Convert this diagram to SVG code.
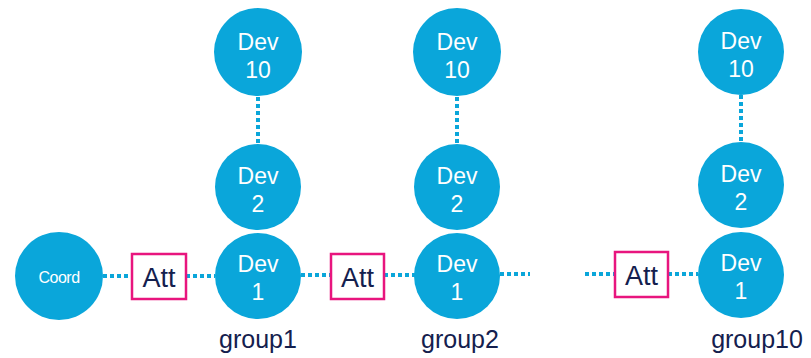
<svg xmlns="http://www.w3.org/2000/svg" width="811" height="358" viewBox="0 0 811 358">
<style>
.n{fill:#0AA6DA}
.t{font-family:"Liberation Sans",Arial,sans-serif;fill:#fff;font-size:23px;text-anchor:middle}
.c{stroke:#0AA6DA;stroke-width:4;stroke-dasharray:4 3;fill:none}
.a{fill:#fff;stroke:#E8157E;stroke-width:2.5}
.at{font-family:"Liberation Sans",Arial,sans-serif;fill:#14204E;font-size:27px;text-anchor:middle}
.g{font-family:"Liberation Sans",Arial,sans-serif;fill:#14204E;font-size:25px;text-anchor:middle}
</style>
<g id="connectors">
<line class="c" x1="103" y1="276" x2="132" y2="276"/>
<line class="c" x1="186" y1="276" x2="215" y2="276"/>
<line class="c" x1="301" y1="275" x2="331" y2="275"/>
<line class="c" x1="384" y1="275" x2="415" y2="275"/>
<line class="c" x1="500" y1="274" x2="530" y2="274"/>
<line class="c" x1="585" y1="274" x2="615" y2="274"/>
<line class="c" x1="668" y1="274" x2="698" y2="274"/>
<line class="c" x1="258" y1="97" x2="258" y2="145"/>
<line class="c" x1="457" y1="97" x2="457" y2="145"/>
<line class="c" x1="741" y1="95" x2="741" y2="142"/>
</g>
<g id="coord"><circle class="n" cx="59" cy="276" r="44"/><text class="t" x="59" y="283" style="font-size:16px;letter-spacing:-0.5px">Coord</text></g>
<g id="att1"><rect class="a" x="132" y="254" width="54" height="45"/><text class="at" x="159" y="287">Att</text></g>
<g id="g1dev1"><circle class="n" cx="258" cy="276" r="43"/><text class="t" x="258" y="272">Dev</text><text class="t" x="258" y="300">1</text></g>
<g id="g1dev2"><circle class="n" cx="258" cy="187" r="43"/><text class="t" x="258" y="184">Dev</text><text class="t" x="258" y="212">2</text></g>
<g id="g1dev10"><circle class="n" cx="258" cy="52" r="44"/><text class="t" x="258" y="50">Dev</text><text class="t" x="258" y="78">10</text></g>
<g id="group1"><text class="g" x="258" y="348">group1</text></g>
<g id="att2"><rect class="a" x="331" y="254" width="53" height="45"/><text class="at" x="357.5" y="287">Att</text></g>
<g id="g2dev1"><circle class="n" cx="457" cy="276" r="43"/><text class="t" x="457" y="272">Dev</text><text class="t" x="457" y="300">1</text></g>
<g id="g2dev2"><circle class="n" cx="457" cy="187" r="43"/><text class="t" x="457" y="184">Dev</text><text class="t" x="457" y="212">2</text></g>
<g id="g2dev10"><circle class="n" cx="457" cy="52" r="44"/><text class="t" x="457" y="50">Dev</text><text class="t" x="457" y="78">10</text></g>
<g id="group2"><text class="g" x="460" y="348">group2</text></g>
<g id="att10"><rect class="a" x="615" y="252" width="53" height="45"/><text class="at" x="641.5" y="285">Att</text></g>
<g id="g10dev1"><circle class="n" cx="741" cy="275" r="43"/><text class="t" x="741" y="271">Dev</text><text class="t" x="741" y="299">1</text></g>
<g id="g10dev2"><circle class="n" cx="741" cy="185" r="43"/><text class="t" x="741" y="182">Dev</text><text class="t" x="741" y="210">2</text></g>
<g id="g10dev10"><circle class="n" cx="741" cy="52" r="43"/><text class="t" x="741" y="49">Dev</text><text class="t" x="741" y="77">10</text></g>
<g id="group10"><text class="g" x="757" y="348">group10</text></g>
</svg>
